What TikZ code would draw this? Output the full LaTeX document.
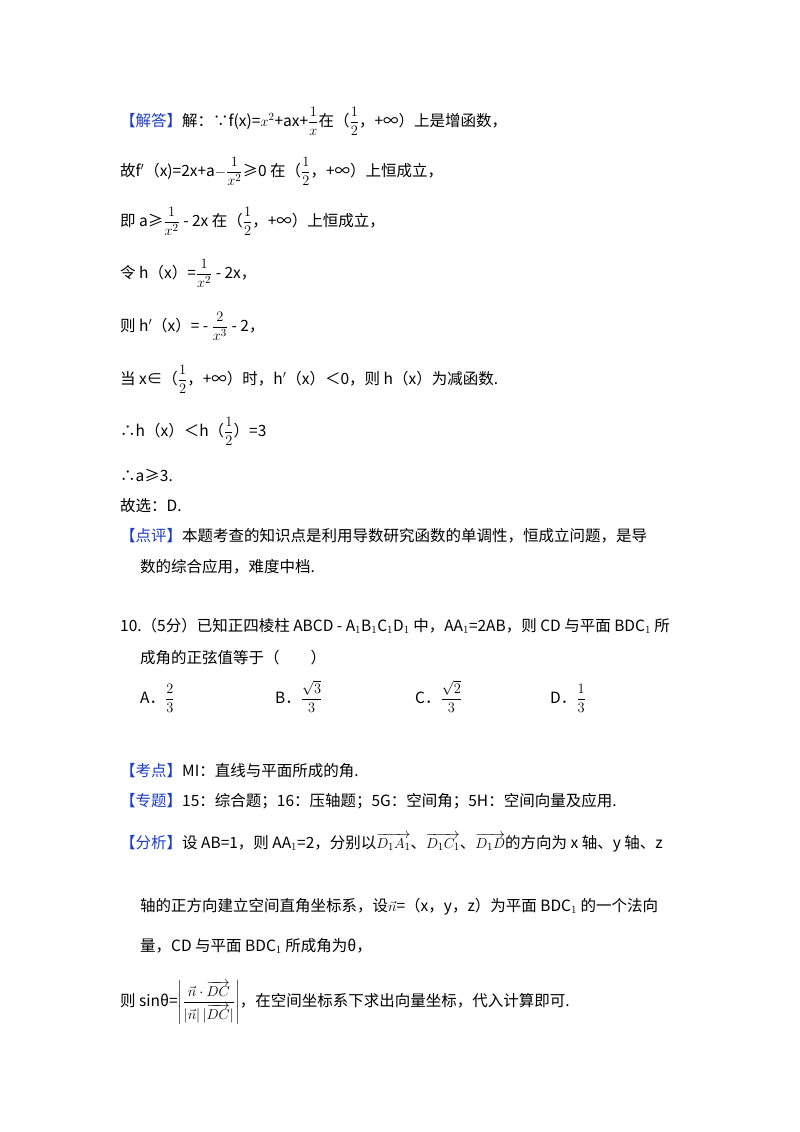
\documentclass[tikz,border=0pt]{standalone}
\usepackage{fontspec}
\usepackage{amsmath}
\setmainfont{Noto Sans CJK SC}
\definecolor{kb}{RGB}{30,60,200}
\newcommand{\kh}[1]{\textcolor{kb}{【#1】}}
\begin{document}
\begin{tikzpicture}[x=1pt,y=-1pt,every node/.style={anchor=base west,inner sep=0pt,font=\fontsize{15.5}{18}\selectfont}]
\useasboundingbox (0,0) rectangle (800,1132);
\node (l1) at (120,126) {\kh{解答}解：∵f(x)=$x^2$+ax+$\dfrac{1}{x}$在（$\dfrac{1}{2}$，+∞）上是增函数，};
\node (l2) at (120,176) {故f$'$（x)=2x+a$-\dfrac{1}{x^2}$≥0 在（$\dfrac{1}{2}$，+∞）上恒成立，};
\node (l3) at (120,226) {即 a≥$\dfrac{1}{x^2}$ - 2x 在（$\dfrac{1}{2}$，+∞）上恒成立，};
\node (l4) at (120,278) {令 h（x）=$\dfrac{1}{x^2}$ - 2x，};
\node (l5) at (120,331) {则 h$'$（x）= - $\dfrac{2}{x^3}$ - 2，};
\node (l6) at (120,384) {当 x∈（$\dfrac{1}{2}$，+∞）时，h$'$（x）＜0，则 h（x）为减函数.};
\node (l7) at (120,436) {∴h（x）＜h（$\dfrac{1}{2}$）=3};
\node (l8) at (120,481) {∴a≥3.};
\node (l9) at (120,511) {故选：D.};
\node (l10) at (120,541) {\kh{点评}本题考查的知识点是利用导数研究函数的单调性，恒成立问题，是导};
\node (l11) at (140,572) {数的综合应用，难度中档.};
\node (l12) at (120,631) {10.（5分）已知正四棱柱 ABCD - A$_1$B$_1$C$_1$D$_1$ 中，AA$_1$=2AB，则 CD 与平面 BDC$_1$ 所};
\node (l13) at (140,663) {成角的正弦值等于（　　）};
\node (a) at (140,703) {A．$\dfrac{2}{3}$};
\node (b) at (275,703) {B．$\dfrac{\sqrt{3}}{3}$};
\node (c) at (415,703) {C．$\dfrac{\sqrt{2}}{3}$};
\node (d) at (550,703) {D．$\dfrac{1}{3}$};
\node (l14) at (120,776) {\kh{考点}MI：直线与平面所成的角.};
\node (l15) at (120,806) {\kh{专题}15：综合题；16：压轴题；5G：空间角；5H：空间向量及应用.};
\node (l16) at (120,848) {\kh{分析}设 AB=1，则 AA$_1$=2，分别以$\overrightarrow{D_1A_1}$、$\overrightarrow{D_1C_1}$、$\overrightarrow{D_1D}$的方向为 x 轴、y 轴、z};
\node (l17) at (140,911) {轴的正方向建立空间直角坐标系，设$\vec{n}$=（x，y，z）为平面 BDC$_1$ 的一个法向};
\node (l18) at (140,951) {量，CD 与平面 BDC$_1$ 所成角为θ，};
\node (l19) at (120,1006) {则 sinθ=$\left|\dfrac{\vec{n}\cdot\overrightarrow{DC}}{|\vec{n}|\,|\overrightarrow{DC}|}\right|$，在空间坐标系下求出向量坐标，代入计算即可.};
\end{tikzpicture}
\end{document}
